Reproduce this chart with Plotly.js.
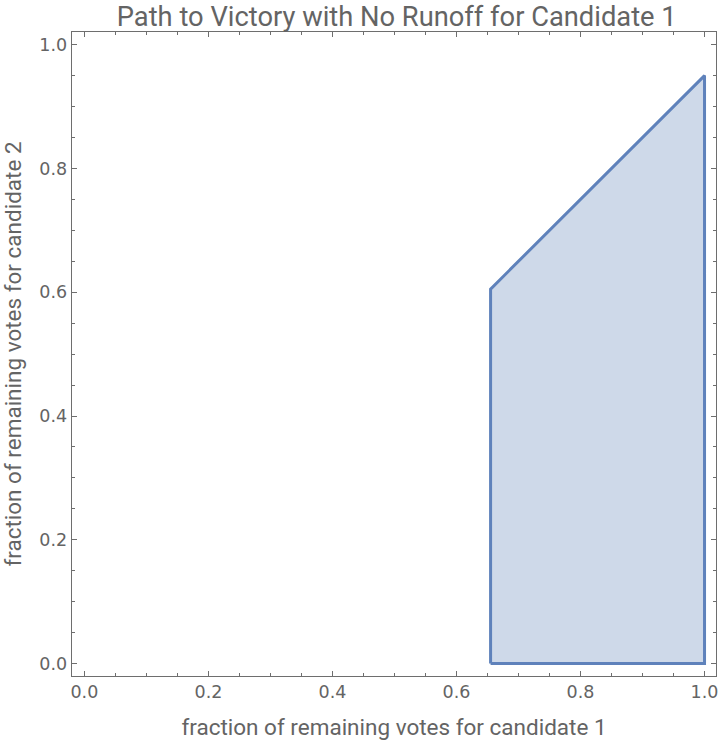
<!DOCTYPE html>
<html>
<head>
<meta charset="utf-8">
<script src="https://cdn.plot.ly/plotly-3.0.1.min.js"></script>
<style>html,body{margin:0;padding:0;background:#fff;}#chart{width:720px;height:740px;}</style>
</head>
<body>
<div id="chart"></div>
<script>
// Region boundary vertices (fraction of remaining votes)
var regionX = [0.655, 1.0, 1.0, 0.655, 0.655];
var regionY = [0.0, 0.0, 0.95, 0.605, 0.0];
var majorTicks = [0, 0.2, 0.4, 0.6, 0.8, 1.0];
var tickLabels = ["0.0", "0.2", "0.4", "0.6", "0.8", "1.0"];

var titleText = "Path to Victory with No Runoff for Candidate 1";
var xTitle = "fraction of remaining votes for candidate 1";
var yTitle = "fraction of remaining votes for candidate 2";

var textColor = "#646464";
var frameColor = "#6e6e6e";
var labelFont = "Roboto, 'Open Sans', sans-serif";
var tickFont = "'DejaVu Sans', sans-serif";

var trace = {
  x: regionX, y: regionY,
  type: "scatter", mode: "lines",
  fill: "toself",
  fillcolor: "rgba(94,129,181,0.3)",
  line: {color: "#5f82bb", width: 3},
  hoverinfo: "skip", showlegend: false
};

function axis(title) {
  return {
    range: [-0.02, 1.0185],
    showgrid: false, zeroline: false,
    showline: true, linecolor: frameColor, linewidth: 1.3, mirror: "allticks",
    ticks: "inside", ticklen: 5, tickwidth: 1, tickcolor: frameColor,
    tickmode: "array", tickvals: majorTicks, ticktext: tickLabels,
    tickfont: {family: tickFont, size: 17.5, color: textColor},
    minor: {dtick: 0.05, tick0: 0, ticks: "inside", ticklen: 3, tickwidth: 1, tickcolor: frameColor, showgrid: false},
    title: {text: title, font: {family: labelFont, size: 22.5, color: textColor}},
    fixedrange: true
  };
}

var xa = axis(xTitle);
xa.title.standoff = 18;
var ya = axis(yTitle);
ya.title.standoff = 12;
ya.range = [-0.02, 1.0204];

var layout = {
  width: 720, height: 740,
  margin: {l: 72, r: 4, t: 32, b: 64},
  paper_bgcolor: "#ffffff", plot_bgcolor: "#ffffff",
  title: {text: titleText, font: {family: labelFont, size: 27.3, color: textColor}, x: 0.551, xanchor: "center", y: 0.978, yanchor: "middle"},
  xaxis: xa, yaxis: ya
};

Plotly.newPlot("chart", [trace], layout, {displayModeBar: false, staticPlot: true});
</script>
</body>
</html>
